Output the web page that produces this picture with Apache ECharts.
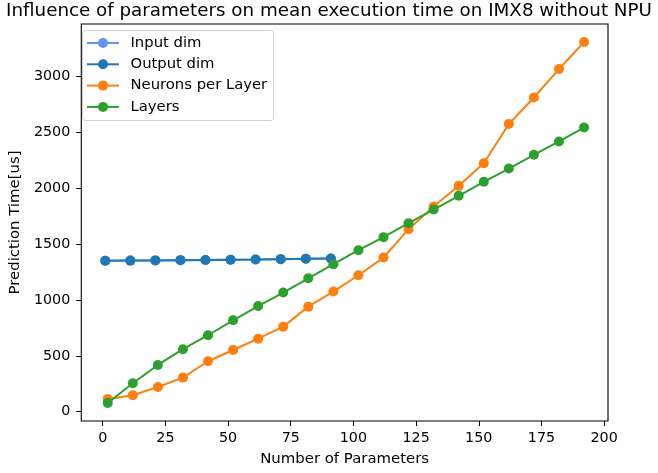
<!DOCTYPE html>
<html>
<head>
<meta charset="utf-8">
<script src="https://cdn.jsdelivr.net/npm/echarts@6/dist/echarts.min.js"></script>
<style>
html,body{margin:0;padding:0;background:#fff;}
#chart{width:658px;height:473px;}
</style>
</head>
<body>
<div id="chart"></div>
<script>
const seriesNames = ['Input dim', 'Output dim', 'Neurons per Layer', 'Layers'];
const seriesColors = ['#6495ED', '#1f77b4', '#ff7f0e', '#2ca02c'];
const dimX = [1, 11, 21, 31, 41, 51, 61, 71, 81, 91];
const inputDim = [1350, 1352, 1354, 1356, 1358, 1360, 1362, 1365, 1368, 1371];
const outputDim = [1350, 1352, 1354, 1356, 1358, 1360, 1362, 1365, 1368, 1371];
const netX = [2, 12, 22, 32, 42, 52, 62, 72, 82, 92, 102, 112, 122, 132, 142, 152, 162, 172, 182, 192];
const neurons = [114, 147, 221, 305, 451, 552, 653, 761, 940, 1075, 1221, 1379, 1633, 1836, 2021, 2224, 2574, 2812, 3066, 3308];
const layers = [78, 254, 418, 559, 684, 818, 945, 1066, 1194, 1320, 1445, 1562, 1687, 1809, 1932, 2057, 2176, 2299, 2418, 2543];
const xTicks = [0, 25, 50, 75, 100, 125, 150, 175, 200];
const yTicks = [0, 500, 1000, 1500, 2000, 2500, 3000];

const font = 'DejaVu Sans';
const pair = (xs, ys) => xs.map((x, i) => [x, ys[i]]);
function mk(i, xs, ys) {
  const color = seriesColors[i];
  return {
    name: seriesNames[i], type: 'line', data: pair(xs, ys), z: 2 + i,
    symbol: 'circle', symbolSize: 10, showSymbol: true,
    lineStyle: {color: color, width: 2},
    itemStyle: {color: color},
    emphasis: {disabled: true},
    animation: false
  };
}

// legend drawn as graphic (matplotlib-style box)
const legendBox = {x: 82, y: 30, w: 191, h: 90, rowY0: 43, rowGap: 21.3};
const legendEls = [{
  type: 'rect', z: 20,
  shape: {x: legendBox.x + 0.5, y: legendBox.y + 0.5, width: legendBox.w, height: legendBox.h, r: 3},
  style: {fill: 'rgba(255,255,255,0.8)', stroke: '#d0d0d0', lineWidth: 1}
}];
seriesNames.forEach((n, i) => {
  const cy = legendBox.rowY0 + i * legendBox.rowGap;
  legendEls.push({type: 'line', z: 21, shape: {x1: 87, y1: cy, x2: 119, y2: cy},
    style: {stroke: seriesColors[i], lineWidth: 2}});
  legendEls.push({type: 'circle', z: 22, shape: {cx: 103, cy: cy, r: 5},
    style: {fill: seriesColors[i]}});
  legendEls.push({type: 'text', z: 22, x: 130.5, y: cy,
    style: {text: n, fill: '#000', font: '14.8px "DejaVu Sans"', textVerticalAlign: 'middle', verticalAlign: 'middle'}});
});

const chart = echarts.init(document.getElementById('chart'), null, {renderer: 'canvas'});
chart.setOption({
  animation: false,
  backgroundColor: '#fff',
  title: {
    text: 'Influence of parameters on mean execution time on IMX8 without NPU',
    left: 329, top: 2, textAlign: 'center', padding: 0,
    textStyle: {fontFamily: font, fontSize: 18.3, fontWeight: 'normal', color: '#000'}
  },
  grid: {left: 75, right: 50, top: 24, bottom: 52, show: true, borderColor: '#000', borderWidth: 1.1, backgroundColor: 'transparent'},
  legend: {show: false},
  graphic: legendEls,
  xAxis: {
    type: 'value', min: -8.55, max: 201.55,
    name: 'Number of Parameters', nameLocation: 'middle', nameGap: 31,
    nameTextStyle: {fontFamily: font, fontSize: 14.9, color: '#000'},
    axisLine: {show: false, onZero: false},
    axisTick: {show: true, customValues: xTicks, length: 5, lineStyle: {color: '#000', width: 1}},
    axisLabel: {customValues: xTicks, fontFamily: font, fontSize: 14.3, color: '#000', margin: 10,
      hideOverlap: false, formatter: v => String(v)},
    splitLine: {show: false}
  },
  yAxis: {
    type: 'value', min: -83.5, max: 3469.5,
    name: 'Prediction Time[us]', nameLocation: 'middle', nameGap: 56,
    nameTextStyle: {fontFamily: font, fontSize: 14.9, color: '#000'},
    axisLine: {show: false, onZero: false},
    axisTick: {show: true, customValues: yTicks, length: 5, lineStyle: {color: '#000', width: 1}},
    axisLabel: {customValues: yTicks, fontFamily: font, fontSize: 14.3, color: '#000', margin: 11,
      hideOverlap: false, formatter: v => String(v)},
    splitLine: {show: false}
  },
  series: [
    mk(0, dimX, inputDim),
    mk(1, dimX, outputDim),
    mk(2, netX, neurons),
    mk(3, netX, layers)
  ]
});
</script>
</body>
</html>
